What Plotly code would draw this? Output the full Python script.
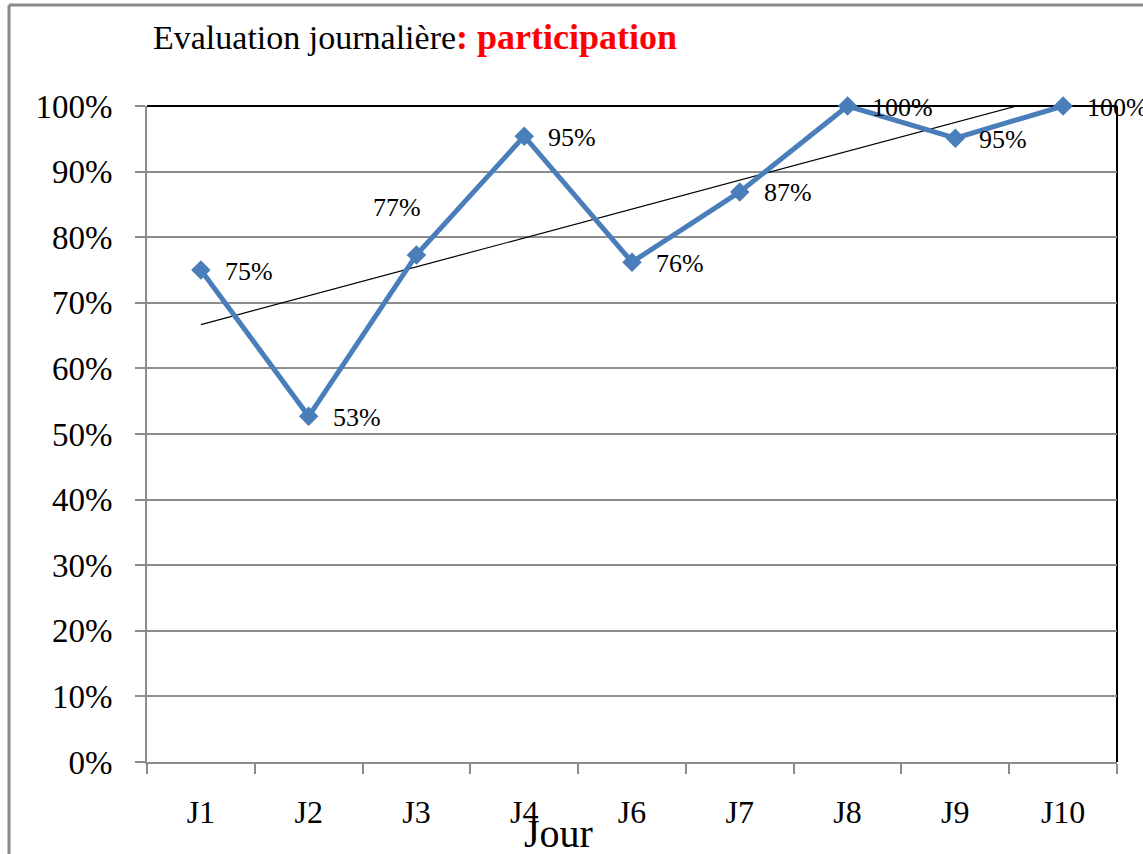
import plotly.graph_objects as go
import numpy as np

days = ["J1", "J2", "J3", "J4", "J6", "J7", "J8", "J9", "J10"]
participation = [0.75, 0.527, 0.773, 0.954, 0.762, 0.869, 1.0, 0.951, 1.0]
labels = ["75%", "53%", "77%", "95%", "76%", "87%", "100%", "95%", "100%"]
y_ticks = [i / 10 for i in range(11)]
y_tick_text = [f"{i*10}%" for i in range(11)]

FONT = "Liberation Serif, Times New Roman, serif"
BLUE = "#4A7EBB"
GRID = "#8c8c8c"

# linear trendline (least squares on category index)
xi = np.arange(1, len(participation) + 1)
slope, intercept = np.polyfit(xi, participation, 1)
trend = list(slope * xi + intercept)

fig = go.Figure()
fig.add_trace(go.Scatter(
    x=days, y=trend, mode="lines",
    line=dict(color="black", width=1.2),
    hoverinfo="skip", showlegend=False, cliponaxis=True,
))
fig.add_trace(go.Scatter(
    x=days, y=participation, mode="lines+markers",
    line=dict(color=BLUE, width=5),
    marker=dict(symbol="diamond", size=15, color=BLUE),
    cliponaxis=False, showlegend=False,
))

# data labels
label_ann = []
for d, v, t in zip(days, participation, labels):
    if d == "J3":
        label_ann.append(dict(x=d, y=v, text=t, showarrow=False, xanchor="center",
                              yanchor="middle", xshift=-19, yshift=47,
                              font=dict(family=FONT, size=26, color="black")))
    else:
        label_ann.append(dict(x=d, y=v, text=t, showarrow=False, xanchor="left",
                              yanchor="middle", xshift=22, yshift=-1,
                              font=dict(family=FONT, size=26, color="black")))

fig.update_layout(
    width=1143, height=854,
    margin=dict(l=147, r=26, t=106, b=92),
    paper_bgcolor="white", plot_bgcolor="white",
    font=dict(family=FONT, color="black"),
    xaxis=dict(
        type="category", range=[-0.5, len(days) - 0.5], automargin=False,
        tickson="boundaries", ticks="outside", ticklen=10, tickwidth=2, tickcolor=GRID,
        showline=True, linecolor=GRID, linewidth=2, showgrid=False,
        tickfont=dict(family=FONT, size=32, color="black"),
        ticklabelstandoff=21,
    ),
    yaxis=dict(
        range=[0, 1], tickvals=y_ticks, ticktext=y_tick_text, automargin=False,
        ticks="outside", ticklen=10, tickwidth=2, tickcolor=GRID,
        showline=True, linecolor=GRID, linewidth=2,
        showgrid=True, gridcolor=GRID, gridwidth=1.5, zeroline=False,
        tickfont=dict(family=FONT, size=33, color="black"),
        ticklabelstandoff=16,
    ),
    shapes=[
        dict(type="line", xref="paper", yref="paper", x0=0, x1=1, y0=1, y1=1,
             line=dict(color="black", width=2), layer="below"),
        dict(type="line", xref="paper", yref="paper", x0=1, x1=1, y0=0, y1=1,
             line=dict(color="black", width=2), layer="below"),
        dict(type="line", xref="paper", yref="paper",
             x0=(9 - 147) / 970, x1=(9 - 147) / 970, y0=(762 - 5) / 656, y1=-0.3,
             line=dict(color="#8a8a8a", width=3)),
        dict(type="line", xref="paper", yref="paper",
             x0=(9 - 147) / 970, x1=1.1, y0=(762 - 5) / 656, y1=(762 - 5) / 656,
             line=dict(color="#8a8a8a", width=3)),
    ],
    annotations=[
        dict(text="Evaluation journalière<span style='color:red;font-size:36px'><b>: participation</b></span>",
             xref="paper", yref="paper", x=(151 - 147) / 970, y=(762 - 37) / 656,
             xanchor="left", yanchor="middle", showarrow=False,
             font=dict(family=FONT, size=34, color="black")),
        dict(text="Jour", xref="paper", yref="paper",
             x=(558 - 147) / 970, y=(762 - 833) / 656,
             xanchor="center", yanchor="middle", showarrow=False,
             font=dict(family=FONT, size=40, color="black")),
    ] + label_ann,
)

fig.write_html("out.html", config={"displayModeBar": False},
               post_script="document.body.style.margin='0';")
